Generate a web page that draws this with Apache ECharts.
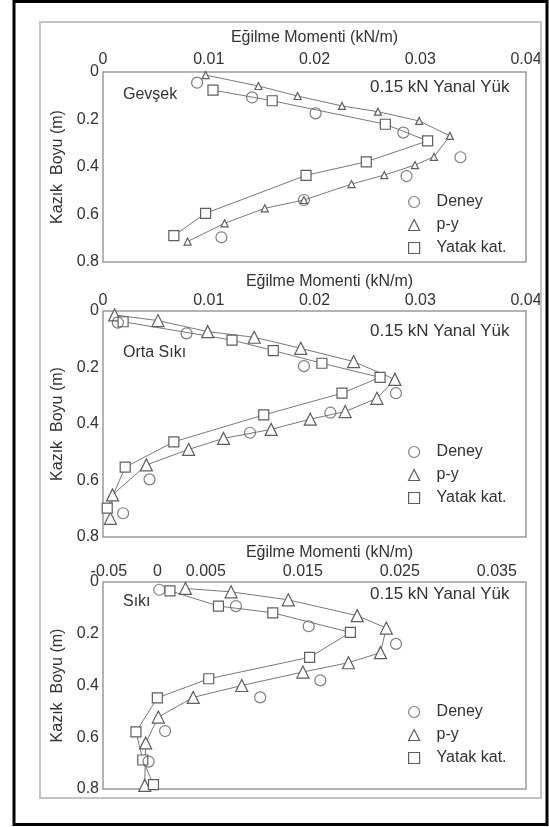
<!DOCTYPE html>
<html>
<head>
<meta charset="utf-8">
<script src="https://cdn.jsdelivr.net/npm/echarts@6/dist/echarts.min.js"></script>
<style>
  html, body { margin: 0; padding: 0; background: #fff; }
  #chart { width: 549px; height: 827px; }
</style>
</head>
<body>
<div id="chart"></div>
<script>
// moment (kN/m), depth (m)
var gevsekDeney = [[0.0089,0.045],[0.0141,0.107],[0.0201,0.174],[0.0284,0.255],[0.0338,0.359],[0.0287,0.438],[0.0190,0.539],[0.0112,0.696]]
var gevsekPy = [[0.0097,0.013],[0.0147,0.059],[0.0184,0.101],[0.0226,0.143],[0.0260,0.167],[0.0299,0.206],[0.0328,0.269],[0.0313,0.357],[0.0295,0.392],[0.0266,0.434],[0.0235,0.472],[0.0190,0.539],[0.0153,0.574],[0.0115,0.637],[0.0080,0.714]]
var gevsekYatak = [[0.0104,0.076],[0.0160,0.121],[0.0267,0.220],[0.0307,0.290],[0.0249,0.378],[0.0192,0.435],[0.0097,0.595],[0.0067,0.689]]

var ortaDeney = [[0.0014,0.041],[0.0079,0.079],[0.0190,0.195],[0.0277,0.291],[0.0215,0.360],[0.0139,0.431],[0.0044,0.596],[0.0019,0.716]]
var ortaPy = [[0.0011,0.014],[0.0052,0.034],[0.0099,0.073],[0.0143,0.093],[0.0187,0.132],[0.0237,0.179],[0.0276,0.242],[0.0259,0.309],[0.0229,0.356],[0.0196,0.383],[0.0159,0.419],[0.0114,0.451],[0.0081,0.490],[0.0041,0.545],[0.0009,0.651],[0.0007,0.734]]
var ortaYatak = [[0.0019,0.038],[0.0122,0.103],[0.0161,0.140],[0.0207,0.185],[0.0262,0.235],[0.0226,0.291],[0.0152,0.368],[0.0067,0.463],[0.0021,0.553],[0.0004,0.698]]

var sikiDeney = [[0.0002,0.030],[0.0081,0.093],[0.0156,0.171],[0.0246,0.239],[0.0168,0.380],[0.0106,0.446],[0.0008,0.576],[-0.0009,0.694]]
var sikiPy = [[0.0029,0.025],[0.0076,0.038],[0.0135,0.069],[0.0206,0.130],[0.0236,0.178],[0.0230,0.273],[0.0197,0.312],[0.0150,0.348],[0.0087,0.400],[0.0037,0.446],[0.0001,0.522],[-0.0012,0.622],[-0.0013,0.786]]
var sikiYatak = [[0.0013,0.034],[0.0063,0.093],[0.0119,0.119],[0.0199,0.195],[0.0157,0.291],[0.0053,0.374],[0.0000,0.448],[-0.0022,0.579],[-0.0015,0.688],[-0.0004,0.783]]

var sikiTicks = [-0.005, 0, 0.005, 0.015, 0.025, 0.035]
var sikiTickLabels = ['-0.05', '0', '0.005', '0.015', '0.025', '0.035']
var panelNames = ['Gevşek', 'Orta Sıkı', 'Sıkı']
var seriesNames = ['Deney', 'p-y', 'Yatak kat.']

var chart_div = echarts.init(document.getElementById('chart'))
var font = '"Liberation Sans", Arial, sans-serif'
var txt = '#333'
var lineGray = '#7a7a7a'
var markGray = '#5e5e5e'

var grids = [
  {left: 103, top: 72, width: 423, height: 190},
  {left: 103, top: 311, width: 423, height: 226},
  {left: 103, top: 582, width: 423, height: 207}
]
grids.forEach(function(g){
  g.show = true
  g.borderColor = '#9a9a9a'
  g.borderWidth = 1.5
  g.backgroundColor = '#fff'
})

var nameGaps = [26, 21, 21]
var xAxes = []
var yAxes = []
for (var i = 0; i < 3; i++) {
  var xa = {
    gridIndex: i,
    type: 'value',
    position: 'top',
    name: 'Eğilme Momenti (kN/m)',
    nameLocation: 'middle',
    nameGap: nameGaps[i],
    nameTextStyle: {fontFamily: font, fontSize: 16, color: txt, padding: i == 0 ? 0 : [0, 0, 0, 30]},
    axisLine: {show: false},
    axisTick: {show: false},
    splitLine: {show: false},
    axisLabel: {fontFamily: font, fontSize: 16, color: txt, margin: i == 0 ? 4 : 2}
  }
  if (i < 2) {
    xa.min = 0
    xa.max = 0.04
    xa.interval = 0.01
  } else {
    xa.min = -0.0056
    xa.max = 0.038
    xa.axisLabel.customValues = sikiTicks
    xa.axisLabel.formatter = function(v){
      var best = 0
      sikiTicks.forEach(function(t, k){
        if (Math.abs(t - v) < Math.abs(sikiTicks[best] - v)) best = k
      })
      return sikiTickLabels[best]
    }
  }
  xAxes.push(xa)
  yAxes.push({
    gridIndex: i,
    type: 'value',
    inverse: true,
    min: 0,
    max: 0.8,
    interval: 0.2,
    name: 'Kazık  Boyu (m)',
    nameLocation: 'middle',
    nameGap: 31,
    nameTextStyle: {fontFamily: font, fontSize: 16, color: txt},
    axisLine: {show: false},
    axisTick: {show: false},
    splitLine: {show: false},
    axisLabel: {fontFamily: font, fontSize: 16, color: txt, margin: 4}
  })
}

function deney_series(idx, data){
  return {
    name: 'Deney', type: 'scatter', xAxisIndex: idx, yAxisIndex: idx,
    symbol: 'circle', symbolSize: 11, z: 4,
    itemStyle: {color: 'rgba(255,255,255,0)', borderColor: markGray, borderWidth: 1.2},
    data: data
  }
}
function line_series(name, idx, data, symbol, size){
  return {
    name: name, type: 'line', xAxisIndex: idx, yAxisIndex: idx,
    symbol: symbol, symbolSize: size, showAllSymbol: true, z: 3,
    lineStyle: {color: lineGray, width: 1},
    itemStyle: {color: '#fff', borderColor: markGray, borderWidth: 1.2},
    data: data
  }
}

var series = [
  deney_series(0, gevsekDeney),
  line_series('p-y', 0, gevsekPy, 'triangle', 7),
  line_series('Yatak kat.', 0, gevsekYatak, 'rect', 10),
  deney_series(1, ortaDeney),
  line_series('p-y', 1, ortaPy, 'triangle', 12),
  line_series('Yatak kat.', 1, ortaYatak, 'rect', 10),
  deney_series(2, sikiDeney),
  line_series('p-y', 2, sikiPy, 'triangle', 12),
  line_series('Yatak kat.', 2, sikiYatak, 'rect', 10)
]

var legendIcons = ['circle', 'triangle', 'rect']
var legendTops = [189, 439, 699]
var legends = legendTops.map(function(t){
  return {
    orient: 'vertical', left: 403, top: t,
    itemWidth: 11, itemHeight: 11, itemGap: 7,
    selectedMode: false,
    textStyle: {fontFamily: font, fontSize: 16, color: txt, padding: [0, 0, 0, 12]},
    data: seriesNames.map(function(n, k){
      return {name: n, icon: legendIcons[k],
        itemStyle: {color: '#fff', borderColor: markGray, borderWidth: 1.2}}
    })
  }
})

var annTops = [88, 332, 595]
var labelTops = [95, 353, 602]
var graphics = [
  {type: 'rect', shape: {x: 14, y: 1.5, width: 533, height: 823}, style: {fill: 'none', stroke: '#000', lineWidth: 3}, z: 10},
  {type: 'rect', shape: {x: 40, y: 22, width: 501, height: 776}, style: {fill: 'none', stroke: '#c4c4c4', lineWidth: 2}, z: 10}
]
for (var j = 0; j < 3; j++) {
  graphics.push({type: 'text', left: 370, top: annTops[j] - 9, z: 10,
    style: {text: '0.15 kN Yanal Yük', fontFamily: font, fontSize: 17, fill: txt}})
  graphics.push({type: 'text', left: 123, top: labelTops[j] - 8, z: 10,
    style: {text: panelNames[j], fontFamily: font, fontSize: 16, fill: txt}})
}

option = {
  animation: false,
  backgroundColor: '#fff',
  grid: grids,
  xAxis: xAxes,
  yAxis: yAxes,
  legend: legends,
  graphic: graphics,
  series: series
};
chart_div.setOption(option, true);
</script>
</body>
</html>
